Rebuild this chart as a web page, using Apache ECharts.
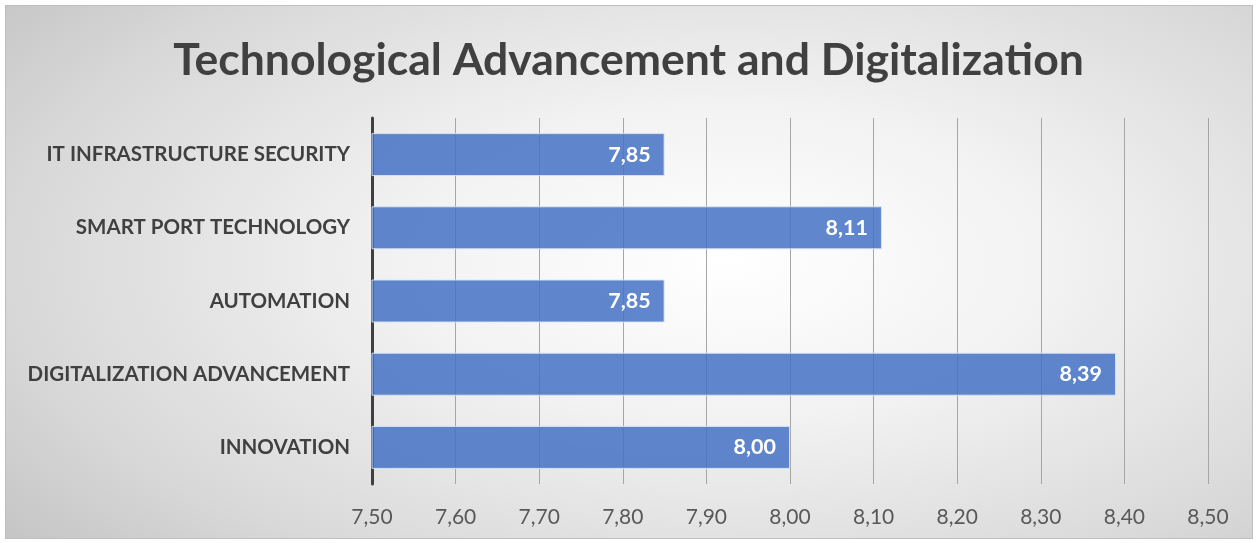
<!DOCTYPE html>
<html><head><meta charset="utf-8">
<script src="https://cdn.jsdelivr.net/npm/echarts@6/dist/echarts.min.js"></script>
<style>
html,body{margin:0;padding:0;background:#fff;}
#frame{position:absolute;left:5px;top:5px;width:1246px;height:532px;border:1px solid #bfbfbf;
background:radial-gradient(ellipse 75% 85% at 58% 48%, #ffffff 0%, #f2f2f2 35%, #d9d9d9 75%, #c4c4c4 100%);}
#chart{position:absolute;left:-6px;top:-6px;width:1257px;height:543px;}
</style></head>
<body><div id="frame"><div id="chart"></div></div>
<script>
const categories = ["INNOVATION","DIGITALIZATION ADVANCEMENT","AUTOMATION","SMART PORT TECHNOLOGY","IT INFRASTRUCTURE SECURITY"];
const values = [8.00, 8.39, 7.85, 8.11, 7.85];
const titleText = "Technological Advancement and Digitalization";
const fmt = v => v.toFixed(2).replace('.', ',');
const chart = echarts.init(document.getElementById('chart'), null, {renderer:'canvas'});
chart.setOption({
  backgroundColor: 'transparent',
  animation: false,
  title: {text: titleText, left: 'center', top: 33,
    textStyle: {fontFamily: 'Lato', fontWeight: 'bold', fontSize: 44.5, color: '#404040'}},
  grid: {left: 372, right: 49, top: 118, bottom: 59, containLabel: false},
  xAxis: {type: 'value', min: 7.5, max: 8.5, interval: 0.1,
    axisLine: {show: false}, axisTick: {show: false},
    splitLine: {show: true, lineStyle: {color: '#a6a6a6', width: 1}},
    axisLabel: {formatter: v => fmt(v), fontFamily: 'Lato', fontSize: 21, color: '#595959', margin: 23}},
  yAxis: {type: 'category', data: categories,
    axisLine: {show: true, lineStyle: {color: '#404040', width: 3}},
    axisTick: {show: false},
    axisLabel: {fontFamily: 'Lato', fontWeight: 'bold', fontSize: 20.5, color: '#404040', margin: 22}},
  series: [{type: 'bar', data: values, barWidth: 43,
    itemStyle: {color: 'rgba(68,114,196,0.85)', borderColor: 'rgba(220,230,245,0.9)', borderWidth: 1},
    label: {show: true, position: 'insideRight', distance: 14, formatter: p => fmt(p.value),
      fontFamily: 'Lato', fontWeight: 'bold', fontSize: 21.5, color: '#ffffff'}}]
});
</script></body></html>
